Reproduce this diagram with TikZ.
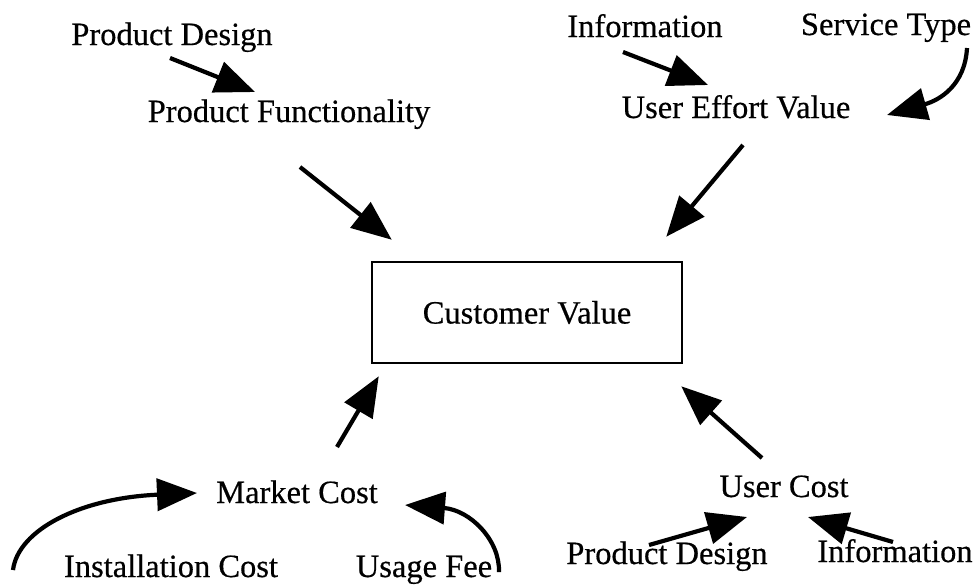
\documentclass[tikz,border=0pt]{standalone}
\usepackage{fontspec}
\setmainfont{Liberation Serif}
\newfontfamily\heavyserif[FakeBold=0.5]{Liberation Serif}
\usetikzlibrary{arrows.meta}
\begin{document}
\begin{tikzpicture}[x=1pt,y=-1pt,
  lbl/.style={anchor=base,inner sep=0pt,font=\heavyserif\fontsize{32.5}{39}\selectfont},
  arr/.style={line width=4.2pt,-{Triangle[length=40pt,width=32pt]}},
  box/.style={draw,line width=2.5pt,minimum width=310pt,minimum height=101pt,inner sep=0pt,font=\heavyserif\fontsize{32.5}{39}\selectfont}]
\useasboundingbox (0,0) rectangle (975,584);
% nodes
\node[lbl] (pd1) at (172,45) {Product Design};
\node[lbl] (pf) at (289,122) {Product Functionality};
\node[lbl] (inf1) at (645,37) {Information};
\node[lbl] (st) at (886,35) {Service Type};
\node[lbl] (uev) at (736,118) {User Effort Value};
\node[box] (cv) at (527,312.5) {Customer Value};
\node[lbl] (mc) at (297,503) {Market Cost};
\node[lbl] (ic) at (171,577) {Installation Cost};
\node[lbl] (uf) at (424,577) {Usage Fee};
\node[lbl] (uc) at (784,497) {User Cost};
\node[lbl] (pd2) at (667,564) {Product Design};
\node[lbl] (inf2) at (895,562) {Information};
% connectors
\draw[arr] ([shift={(-2,13)}]pd1.base) -- ([shift={(-34,-30)}]pf.base);
\draw[arr] ([shift={(11,45)}]pf.base) -- ([shift={(21,-21)}]cv.north west);
\draw[arr] ([shift={(-22,15)}]inf1.base) -- ([shift={(-28,-33)}]uev.base);
\draw[arr] ([shift={(81,13)}]st.base) .. controls ([shift={(79,50)}]st.base) and ([shift={(54,65)}]st.base) .. ([shift={(151,-3)}]uev.base);
\draw[arr] ([shift={(7,27)}]uev.base) -- ([shift={(-17,-24)}]cv.north east);
\draw[arr] ([shift={(40,-56)}]mc.base) -- ([shift={(8,12)}]cv.south west);
\draw[arr] ([shift={(-158,-7)}]ic.base) .. controls ([shift={(-153,-47)}]ic.base) and ([shift={(-91,-79)}]ic.base) .. ([shift={(-100,-10)}]mc.base);
\draw[arr] ([shift={(75,-5)}]uf.base) .. controls ([shift={(76,-37)}]uf.base) and ([shift={(46,-67)}]uf.base) .. ([shift={(108,2)}]mc.base);
\draw[arr] ([shift={(-22,-39)}]uc.base) -- ([shift={(-2,22)}]cv.south east);
\draw[arr] ([shift={(-18,-19)}]pd2.base) -- ([shift={(-37,20)}]uc.base);
\draw[arr] ([shift={(-2,-20)}]inf2.base) -- ([shift={(24,20)}]uc.base);
\end{tikzpicture}
\end{document}
